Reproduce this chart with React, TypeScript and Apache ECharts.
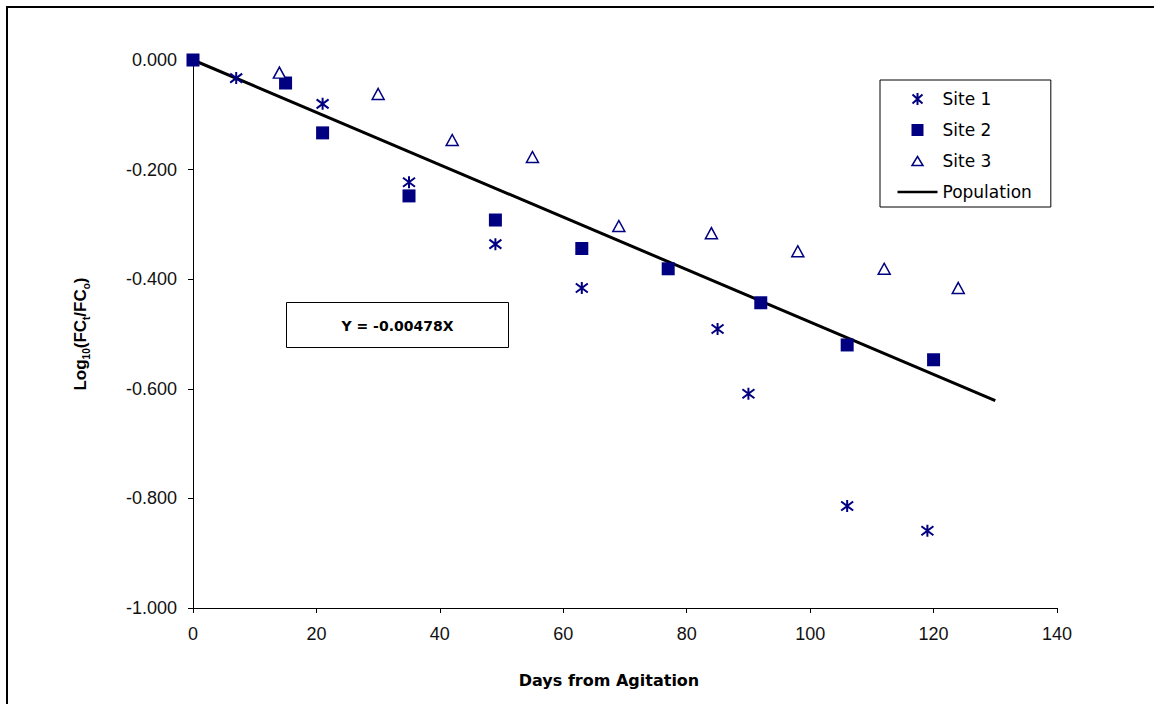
import React, { useEffect, useRef } from "react";
import * as echarts from "echarts";

const site1Days = [7, 21, 35, 49, 63, 85, 90, 106, 119];
const site1Values = [-0.033, -0.08, -0.223, -0.336, -0.416, -0.491, -0.609, -0.814, -0.859];
const site2Days = [0, 15, 21, 35, 49, 63, 77, 92, 106, 120];
const site2Values = [0, -0.042, -0.133, -0.248, -0.292, -0.344, -0.381, -0.443, -0.52, -0.547];
const site3Days = [14, 30, 42, 55, 69, 84, 98, 112, 124];
const site3Values = [-0.023, -0.062, -0.146, -0.177, -0.303, -0.316, -0.349, -0.381, -0.416];
const slope = -0.00478;
const populationDays = [0, 130];
const xTicks = { min: 0, max: 140, interval: 20 };
const yTicks = { min: -1, max: 0, interval: 0.2 };
const equationText = "Y = -0.00478X";
const xTitle = "Days from Agitation";

const NAVY = "#000080";
const FONT = "Liberation Sans, Arial, sans-serif";
const WIDE = "DejaVu Sans, sans-serif";

const pairs = (xs: number[], ys: number[]) => xs.map((x, i) => [x, ys[i]]);

export default function App() {
  const ref = useRef<HTMLDivElement>(null);
  useEffect(() => {
    if (!ref.current) return;
    const chart = echarts.init(ref.current, null, { renderer: "svg" });
    const asterisk = "path://M6,0L6,12M1,1.5L11,10.5M1,10.5L11,1.5";
    chart.setOption({
      animation: false,
      backgroundColor: "#fff",
      textStyle: { fontFamily: FONT },
      grid: { left: 193, right: 97, top: 60, bottom: 96, containLabel: false },
      xAxis: {
        type: "value",
        min: xTicks.min,
        max: xTicks.max,
        interval: xTicks.interval,
        splitLine: { show: false },
        axisLine: { onZero: false, lineStyle: { color: "#000", width: 1 } },
        axisTick: { length: 5, lineStyle: { color: "#000" } },
        axisLabel: { color: "#111", fontSize: 18, margin: 17, fontFamily: FONT },
      },
      yAxis: {
        type: "value",
        min: yTicks.min,
        max: yTicks.max,
        interval: yTicks.interval,
        splitLine: { show: false },
        axisLine: { show: true, onZero: false, lineStyle: { color: "#000", width: 1 } },
        axisTick: { show: true, length: 5, lineStyle: { color: "#000" } },
        axisLabel: {
          color: "#111",
          fontSize: 18,
          margin: 16,
          fontFamily: FONT,
          formatter: (v: number) => v.toFixed(3),
        },
        name: "{b|Log}{s|10}{b|(FC}{s|t}{b|/FC}{s|o}{b|)}",
        nameLocation: "middle",
        nameRotate: 90,
        nameGap: 102,
        nameTextStyle: {
          rich: {
            b: { fontSize: 17, fontWeight: "bold", fontFamily: FONT, color: "#000", lineHeight: 22, verticalAlign: "middle" },
            s: { fontSize: 10, fontWeight: "bold", fontFamily: FONT, color: "#000", lineHeight: 22, verticalAlign: "bottom" },
          },
        },
      },
      legend: {
        data: [
          { name: "Site 1", icon: "path://M0,0M40,12M20,0L20,12M15,1.5L25,10.5M15,10.5L25,1.5", itemStyle: { color: "none", borderColor: NAVY, borderWidth: 2, opacity: 1 } },
          { name: "Site 2", icon: "path://M0,0M40,12M14,0H26V12H14Z", itemStyle: { color: NAVY, borderWidth: 0, opacity: 1 } },
          { name: "Site 3", icon: "path://M0,0M40,12M20,1.5L25.5,10.5H14.5Z", itemStyle: { color: "#fff", borderColor: NAVY, borderWidth: 1.5, opacity: 1 } },
          { name: "Population", icon: "path://M0,0M40,12M0,4.7H40V7.3H0Z", itemStyle: { color: "#000", borderWidth: 0 } },
        ],
        orient: "vertical",
        left: 880,
        top: 80,
        padding: [10, 19, 6, 15],
        itemWidth: 40,
        itemHeight: 12,
        itemGap: 13,
        borderColor: "#000",
        borderWidth: 1,
        backgroundColor: "#fff",
        textStyle: { fontSize: 17, lineHeight: 18, color: "#000", fontFamily: WIDE },
      },
      graphic: [
        {
          type: "polyline",
          shape: { points: [[7, 704], [7, 7], [1160, 7]] },
          style: { stroke: "#000", lineWidth: 2, fill: "none" },
          z: 100,
        },
        {
          type: "group",
          left: 286,
          top: 302,
          children: [
            { type: "rect", shape: { x: 0, y: 0, width: 222, height: 45 }, style: { fill: "#fff", stroke: "#000", lineWidth: 1 } },
            {
              type: "text",
              x: 111,
              y: 23,
              style: { text: equationText, fontSize: 14, fontWeight: "bold", fontFamily: WIDE, fill: "#000", align: "center", verticalAlign: "middle" },
            },
          ],
        },
        {
          type: "text",
          x: 609,
          y: 680,
          style: { text: xTitle, fontSize: 16, fontWeight: "bold", fontFamily: WIDE, fill: "#000", align: "center", verticalAlign: "middle" },
        },
      ],
      series: [
        {
          name: "Population",
          type: "line",
          data: populationDays.map((d) => [d, slope * d]),
          symbol: "none",
          lineStyle: { color: "#000", width: 3 },
          itemStyle: { color: "#000" },
          z: 2,
        },
        {
          name: "Site 1",
          type: "scatter",
          data: pairs(site1Days, site1Values),
          symbol: asterisk,
          symbolSize: 12,
          itemStyle: { color: "none", borderColor: NAVY, borderWidth: 2, opacity: 1 },
          z: 3,
        },
        {
          name: "Site 2",
          type: "scatter",
          data: pairs(site2Days, site2Values),
          symbol: "rect",
          symbolSize: 13,
          itemStyle: { color: NAVY, opacity: 1 },
          z: 3,
        },
        {
          name: "Site 3",
          type: "scatter",
          data: pairs(site3Days, site3Values),
          symbol: "triangle",
          symbolSize: [12, 11],
          itemStyle: { color: "#fff", borderColor: NAVY, borderWidth: 1.5, opacity: 1 },
          z: 3,
        },
      ],
    });
    return () => chart.dispose();
  }, []);
  return (
    <div
      ref={ref}
      style={{ position: "absolute", left: 0, top: 0, width: 1154, height: 704, background: "#fff" }}
    />
  );
}
